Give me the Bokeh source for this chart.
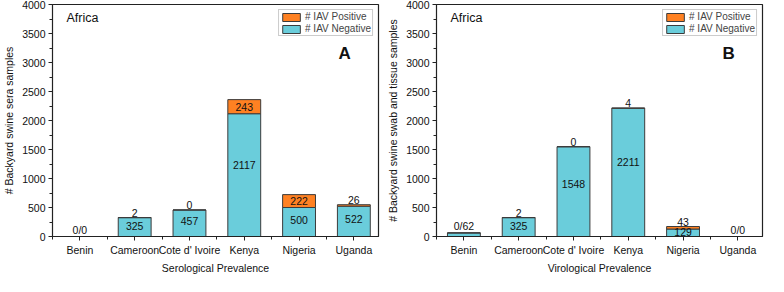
from bokeh.plotting import figure
from bokeh.models import FixedTicker, Label, Legend, LegendItem, Range1d
from bokeh.layouts import row
from bokeh.core.properties import value
from bokeh.embed import file_html
from bokeh.resources import INLINE

countries = ["Benin", "Cameroon", "Cote d' Ivoire", "Kenya", "Nigeria", "Uganda"]
sero_negative = [0, 325, 457, 2117, 500, 522]
sero_positive = [0, 2, 0, 243, 222, 26]
viro_negative = [62, 325, 1548, 2211, 129, 0]
viro_positive = [0, 2, 0, 4, 43, 0]
y_ticks = [0, 500, 1000, 1500, 2000, 2500, 3000, 3500, 4000]

FONT = "Liberation Sans"
NEG = "#6ACDDB"
POS = "#FF8122"
EDGE = "#3c3c3c"


def make(neg, pos, ytitle, xtitle, letter):
    xs = list(range(1, len(countries) + 1))
    p = figure(width=384, height=276, x_range=Range1d(0.5, 6.45), y_range=Range1d(0, 4000),
               output_backend="svg", toolbar_location=None,
               min_border_left=30, min_border_right=6, min_border_top=4, min_border_bottom=0)
    p.grid.visible = False
    p.outline_line_color = "#222222"
    p.outline_line_width = 1.2
    p.background_fill_color = "white"

    tops = [n + q for n, q in zip(neg, pos)]
    r_neg = p.vbar(x=xs, bottom=0, top=neg, width=0.6, fill_color=NEG, line_color=EDGE, line_width=1)
    r_pos = p.vbar(x=xs, bottom=neg, top=tops, width=0.6, fill_color=POS, line_color=EDGE, line_width=1)

    # labels
    in_x, in_y, in_t = [], [], []
    top_x, top_y, top_t = [], [], []
    for x, n, q, t in zip(xs, neg, pos, tops):
        if n >= 100:
            in_x.append(x); in_y.append(n * 0.58); in_t.append(str(n))
            if q >= 150:
                in_x.append(x); in_y.append(n + q / 2); in_t.append(str(q))
            else:
                top_x.append(x); top_y.append(t); top_t.append(str(q))
        else:
            top_x.append(x); top_y.append(t); top_t.append(f"{q}/{n}")
    p.text(x=in_x, y=in_y, text=in_t, text_align="center", text_baseline="middle",
           text_font=value(FONT), text_font_size="10.5px", text_color="#111111")
    p.text(x=top_x, y=top_y, text=top_t, text_align="center", text_baseline="bottom", y_offset=-1,
           text_font=value(FONT), text_font_size="10.5px", text_color="#111111")

    # axes
    p.xaxis.ticker = FixedTicker(ticks=xs, minor_ticks=[x + 0.5 for x in xs[:-1]] + [0.5])
    p.xaxis.major_label_overrides = {x: c for x, c in zip(xs, countries)}
    p.yaxis.ticker = FixedTicker(ticks=y_ticks, minor_ticks=[v + 250 for v in y_ticks[:-1]])
    for ax in (p.xaxis[0], p.yaxis[0]):
        ax.major_label_text_font = FONT
        ax.major_label_text_font_size = "10.5px"
        ax.major_label_text_color = "#111111"
        ax.axis_label_text_font = FONT
        ax.axis_label_text_font_size = "10.5px"
        ax.axis_label_text_font_style = "normal"
        ax.axis_label_text_color = "#111111"
        ax.axis_line_color = "#222222"
        ax.major_tick_line_color = "#222222"
        ax.minor_tick_line_color = "#222222"
        ax.major_tick_out = 4
        ax.major_tick_in = 0
        ax.minor_tick_out = 3
        ax.minor_tick_in = 0
    p.xaxis.axis_label = xtitle
    p.xaxis.axis_label_standoff = 3
    p.xaxis.major_label_standoff = 3
    p.yaxis.axis_label = ytitle
    p.yaxis.axis_label_standoff = 4
    p.yaxis.major_label_standoff = 3

    legend = Legend(items=[LegendItem(label="# IAV Positive", renderers=[r_pos]),
                           LegendItem(label="# IAV Negative", renderers=[r_neg])],
                    location="top_right", label_text_font=FONT, label_text_font_size="10px",
                    label_height=9, glyph_height=10, glyph_width=22, spacing=1, padding=1,
                    label_standoff=3, margin=5, border_line_color="#999999",
                    background_fill_alpha=1)
    p.add_layout(legend)

    p.add_layout(Label(x=14, y=212, x_units="screen", y_units="screen", text="Africa",
                       text_font=FONT, text_font_size="12.5px", text_color="#111111"))
    p.add_layout(Label(x=286, y=174, x_units="screen", y_units="screen", text=letter,
                       text_font=FONT, text_font_size="17px", text_font_style="bold",
                       text_color="#111111"))
    return p


pa = make(sero_negative, sero_positive, "# Backyard swine sera samples", "Serological Prevalence", "A")
pb = make(viro_negative, viro_positive, "# Backyard swine swab and tissue samples", "Virological Prevalence", "B")
layout = row(pa, pb)
open("out.html", "w").write(file_html(layout, INLINE))
